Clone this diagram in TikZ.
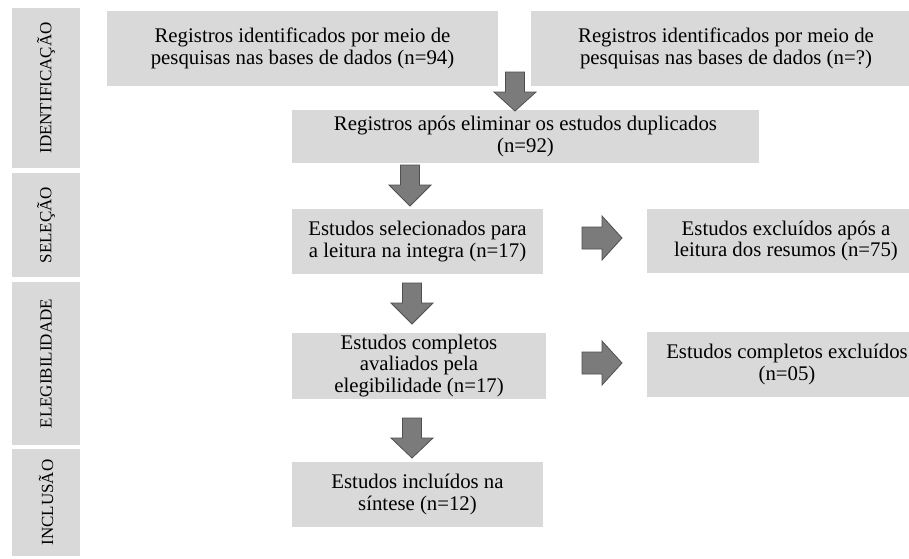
\documentclass[tikz,border=0pt]{standalone}
\usepackage{fontspec}
\setmainfont{Liberation Serif}
\definecolor{boxgray}{HTML}{D9D9D9}
\definecolor{arrfill}{HTML}{7B7B7B}
\definecolor{arrline}{HTML}{4F4F4F}
\newcommand{\blkdown}[5]{% name, cx, top, base, tip
  \draw[blkarrow] (#2-9.5,#3) -- (#2+9.5,#3) -- (#2+9.5,#4) -- (#2+21,#4) -- (#2,#5) -- (#2-21,#4) -- (#2-9.5,#4) -- cycle;
  \coordinate (#1) at (#2,#3);}
\newcommand{\blkright}[2]{% name, cy
  \draw[blkarrow] (582,#2-11) -- (602,#2-11) -- (602,#2-22) -- (622,#2) -- (602,#2+22) -- (602,#2+11) -- (582,#2+11) -- cycle;
  \coordinate (#1) at (582,#2);}
\begin{document}
\begin{tikzpicture}[x=1pt,y=-1pt,
  flowbox/.style={fill=boxgray, draw=none, inner sep=0pt, align=center,
    font=\rmfamily\fontsize{20.8}{21.5}\selectfont},
  sidebox/.style={fill=boxgray, draw=none, inner sep=0pt, align=center,
    font=\rmfamily\fontsize{17}{18}\selectfont, rotate=90},
  blkarrow/.style={fill=arrfill, draw=arrline, line width=0.8pt, line join=miter}]
\useasboundingbox (0,0) rectangle (909,558);
\fill[white] (0,0) rectangle (909,558);

% side labels
\node[sidebox, minimum width=160pt, minimum height=68pt] (sid) at (46,88) {IDENTIFICAÇÃO};
\node[sidebox, minimum width=104pt, minimum height=68pt] (ssel) at (46,225) {SELEÇÃO};
\node[sidebox, minimum width=163pt, minimum height=68pt] (sele) at (46,363.5) {ELEGIBILIDADE};
\node[sidebox, minimum width=107pt, minimum height=68pt] (sinc) at (46,502.5) {INCLUSÃO};

% boxes
\node[flowbox, minimum width=391pt, minimum height=75pt] (b1) at (302.5,48.5)
  {Registros identificados por meio de\\pesquisas nas bases de dados (n=94)};
\node[flowbox, minimum width=390pt, minimum height=75pt] (b2) at (726,48.5)
  {Registros identificados por meio de\\pesquisas nas bases de dados (n=?)};
\node[flowbox, minimum width=467pt, minimum height=53pt] (b3) at (525.5,136.5)
  {Registros após eliminar os estudos duplicados\\(n=92)};
\node[flowbox, minimum width=251pt, minimum height=65pt] (b4) at (417.5,241.5)
  {Estudos selecionados para\\a leitura na integra (n=17)};
\node[flowbox, minimum width=278pt, minimum height=64pt] (b5) at (786,241)
  {Estudos excluídos após a\\leitura dos resumos (n=75)};
\node[flowbox, minimum width=254pt, minimum height=66pt] (b6) at (419,366)
  {Estudos completos\\avaliados pela\\elegibilidade (n=17)};
\node[flowbox, minimum width=280pt, minimum height=65pt] (b7) at (787,364.5)
  {Estudos completos excluídos\\(n=05)};
\node[flowbox, minimum width=251pt, minimum height=65pt] (b8) at (417.5,494.5)
  {Estudos incluídos na\\síntese (n=12)};

% block arrows
\blkdown{a1}{515}{72}{92}{111}
\blkdown{a2}{410}{165}{185}{206}
\blkdown{a3}{412}{283}{303}{324}
\blkdown{a4}{412}{418}{438}{458}
\blkright{r1}{238}
\blkright{r2}{363}
\end{tikzpicture}
\end{document}
